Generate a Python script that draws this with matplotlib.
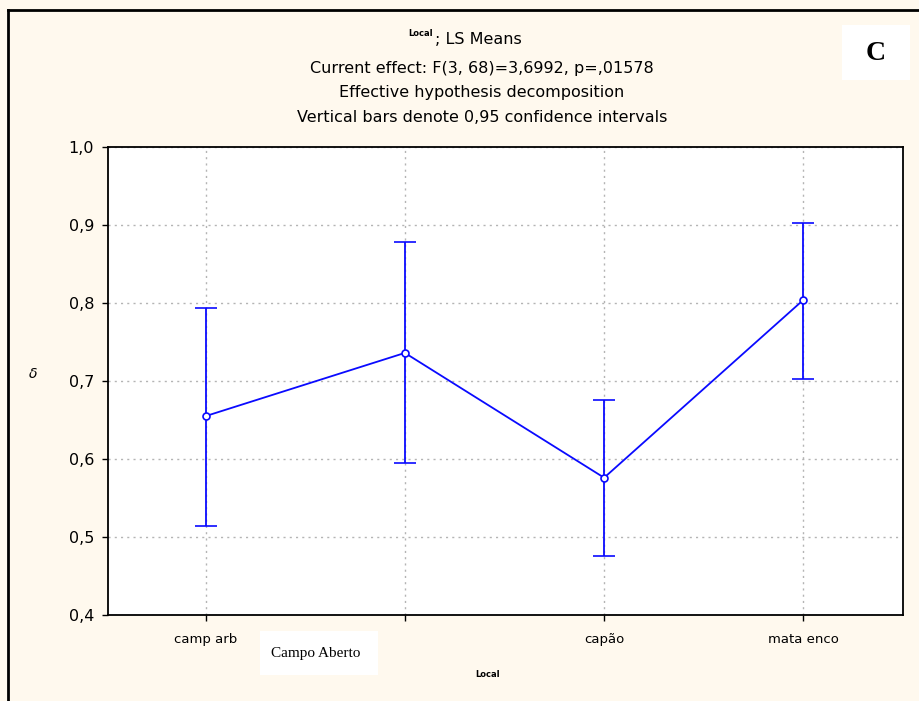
import numpy as np
import matplotlib.pyplot as plt
from matplotlib.lines import Line2D
from matplotlib.patches import Rectangle

# LS means and 0.95 confidence limits
categories = ['camp arb', '', 'capão', 'mata enco']   # 2nd label is hidden under the pasted box
means = [0.655, 0.736, 0.576, 0.804]
upper = [0.794, 0.878, 0.676, 0.903]
lower = [0.514, 0.595, 0.476, 0.703]
yticks = [0.4, 0.5, 0.6, 0.7, 0.8, 0.9, 1.0]
title_lines = ['Current effect: F(3, 68)=3,6992, p=,01578',
               'Effective hypothesis decomposition',
               'Vertical bars denote 0,95 confidence intervals']

bg = '#fff9ee'
blue = '#0a0aff'
W, H = 919, 701

plt.rcParams['font.family'] = ['DejaVu Sans']
fig = plt.figure(figsize=(W / 100, H / 100), dpi=100, facecolor=bg)
ax = fig.add_axes([108 / W, 1 - 615 / H, (903 - 108) / W, (615 - 147) / H])
ax.set_facecolor('white')

x = np.arange(len(categories))
m = np.array(means)
err = np.vstack([m - np.array(lower), np.array(upper) - m])
ax.errorbar(x, m, yerr=err, color=blue, lw=1.3, elinewidth=1.3, capsize=8,
            capthick=1.3, marker='o', ms=5, mfc='white', mec=blue, mew=1.2,
            zorder=3)

ax.set_xlim(-0.49, 3.5)
ax.set_ylim(0.4, 1.0)
ax.set_yticks(yticks)
ax.set_yticklabels([f'{v:.1f}'.replace('.', ',') for v in yticks], fontsize=11.5)
ax.set_xticks(x)
ax.set_xticklabels(categories, fontsize=9.5)
ax.tick_params(length=4, width=1, color='black')
ax.tick_params(axis='x', pad=9)
ax.tick_params(axis='y', pad=6)
ax.grid(True, color='#b4b4b4', ls=(0, (1.5, 3)), lw=1)
for s in ax.spines.values():
    s.set_linewidth(1.3)

ax.set_xlabel('Local', fontsize=6, fontweight='bold')
ax.xaxis.set_label_coords((488 - 108) / (903 - 108), -(670 - 615) / (615 - 147))
ax.set_ylabel('δ', fontsize=10, style='italic', rotation=0)
ax.yaxis.set_label_coords(-(108 - 33) / (903 - 108), (615 - 381) / (615 - 147))

# header text
fig.text(433 / W, 1 - 33 / H, 'Local', fontsize=6, fontweight='bold',
         ha='right', va='center')
fig.text(435 / W, 1 - 40 / H, '; LS Means', fontsize=11.5, ha='left', va='center')
for i, t in enumerate(title_lines):
    fig.text(482 / W, 1 - (68 + 25 * i) / H, t, fontsize=11.5,
             ha='center', va='center')

# pasted white boxes
fig.add_artist(Rectangle((842 / W, 1 - 80 / H), 68 / W, 55 / H,
                         transform=fig.transFigure, fc='white', ec='none'))
fig.text(876 / W, 1 - 54 / H, 'C', fontsize=20, fontweight='bold',
         family='Liberation Serif', ha='center', va='center')
fig.add_artist(Rectangle((260 / W, 1 - 675 / H), 118 / W, 44 / H,
                         transform=fig.transFigure, fc='white', ec='none'))
fig.text(316 / W, 1 - 653 / H, 'Campo Aberto', fontsize=11,
         family='Liberation Serif', ha='center', va='center')

# outer frame
fig.add_artist(Line2D([8 / W, 8 / W], [0, 1 - 10 / H], color='black', lw=2))
fig.add_artist(Line2D([8 / W, 1], [1 - 10 / H, 1 - 10 / H], color='black', lw=2))

fig.savefig('out.png', dpi=100, facecolor=bg)
